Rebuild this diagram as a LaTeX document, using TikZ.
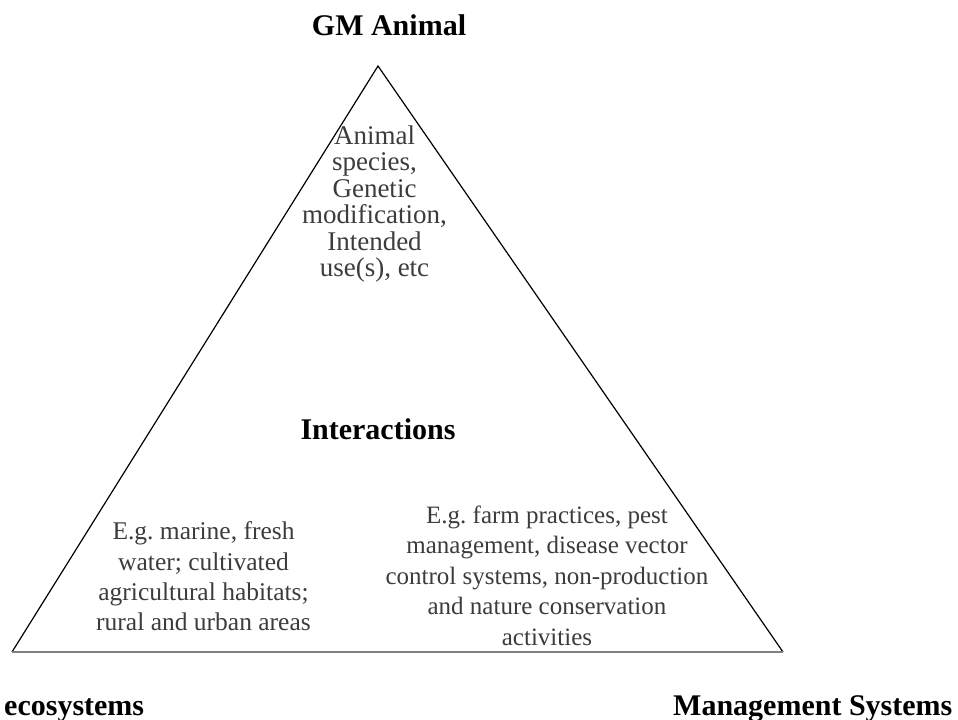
\documentclass[tikz,border=0pt]{standalone}
\usepackage{fontspec}
\setmainfont{Liberation Serif}
\usepackage{tikz}
\usetikzlibrary{positioning,calc}
\definecolor{edgegray}{RGB}{128,128,128}
\definecolor{notegray}{RGB}{60,60,60}
\frenchspacing

\begin{document}
\begin{tikzpicture}[x=1bp,y=-1bp,
  cornerlabel/.style={font=\fontsize{30bp}{34bp}\selectfont\bfseries,inner sep=0pt},
  notetext/.style={font=\fontsize{25.5bp}{30.3bp}\selectfont,text=notegray,align=center,inner sep=0pt}]
\useasboundingbox (0,0) rectangle (958,720);
\coordinate (apex) at (378,66);
\coordinate (lefttip) at (12,652);
\coordinate (righttip) at (783,652);
\draw[line width=1.2bp,line join=miter] (lefttip) -- (apex) -- (righttip);
\draw[edgegray,line width=2.2bp] (lefttip) -- (righttip);
\node[cornerlabel,anchor=base] (gmlabel) at (389,36) {GM Animal};
\node[cornerlabel,anchor=base] (interlabel) at (378,439) {Interactions};
\node[cornerlabel,anchor=base west] (ecolabel) at (4,715) {ecosystems};
\node[cornerlabel,anchor=base west] (mgmtlabel) at (673,715) {Management Systems};
\node[notetext,font=\fontsize{27bp}{26.5bp}\selectfont] (animaltext) at (374.5,204) {Animal\\species,\\Genetic\\modification,\\Intended\\use(s), etc};
\node[notetext] (envtext) at (203.5,576.5) {E.g. marine, fresh\\water; cultivated\\agricultural habitats;\\rural and urban areas};
\node[notetext,font=\fontsize{25bp}{30.5bp}\selectfont] (mgmttext) at (547,575.5) {E.g. farm practices, pest\\management, disease vector\\control systems, non-production\\and nature conservation\\activities};
\end{tikzpicture}
\end{document}
